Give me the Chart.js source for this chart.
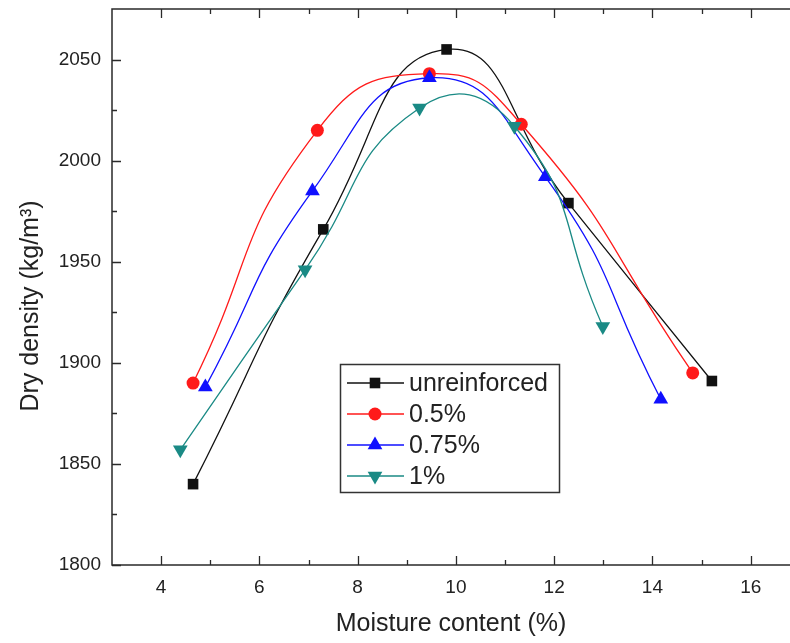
<!DOCTYPE html>
<html>
<head>
<meta charset="utf-8">
<script src="https://cdn.jsdelivr.net/npm/chart.js@4.4.1/dist/chart.umd.min.js"></script>
<style>
  html, body { margin: 0; padding: 0; background: #fff; overflow: hidden; }
  #wrap { width: 790px; height: 643px; position: relative; }
</style>
</head>
<body>
<div id="wrap"><canvas id="compaction"></canvas></div>
<script>
// Proctor compaction curves: dry density vs moisture content
const SERIES = ["unreinforced", "0.5%", "0.75%", "1%"];

const moistPlain = [4.65, 7.30, 9.81, 12.29, 15.21];
const densPlain  = [1840, 1966, 2055, 1979, 1891];
const moist05    = [4.65, 7.18, 9.46, 11.33, 14.82];
const dens05     = [1890, 2015, 2043, 2018, 1895];
const moist075   = [4.90, 7.08, 9.46, 11.82, 14.17];
const dens075    = [1888, 1985, 2041, 1992, 1882];
const moist1     = [4.39, 6.93, 9.26, 11.19, 12.99];
const dens1      = [1857, 1946, 2026, 2017, 1918];

const xTicks = [4, 6, 8, 10, 12, 14, 16];
const xMinor = [5, 7, 9, 11, 13, 15];
const yTicks = [1800, 1850, 1900, 1950, 2000, 2050];
const yMinor = [1825, 1875, 1925, 1975, 2025];

const Y_TITLE = "Dry density (kg/m³)";
const FONT = "'Liberation Sans', Arial, sans-serif";
const INK = "#222";

const pts = (xs, ys) => xs.map((x, i) => ({ x, y: ys[i] }));

function series(i, xs, ys, color, style, radius, rotation, order) {
  return {
    label: SERIES[i],
    data: pts(xs, ys),
    borderColor: color,
    backgroundColor: color,
    borderWidth: 1.3,
    tension: 0.52,
    pointStyle: style,
    pointRadius: radius,
    pointRotation: rotation,
    pointBorderWidth: 0,
    pointHoverRadius: radius,
    order
  };
}

// axis frame with inward ticks (Origin style)
const frame = {
  id: "frame",
  beforeDatasetsDraw(chart) {
    const { ctx, chartArea: a, scales: { x, y } } = chart;
    ctx.save();
    ctx.strokeStyle = "#2a2a2a";
    ctx.lineWidth = 1.5;
    ctx.beginPath();
    ctx.moveTo(a.right, a.top);
    ctx.lineTo(a.left, a.top);
    ctx.lineTo(a.left, a.bottom);
    ctx.lineTo(a.right, a.bottom);
    ctx.stroke();

    ctx.lineWidth = 1.3;
    ctx.beginPath();
    const xt = (v, len) => {
      const px = Math.round(x.getPixelForValue(v)) + 0.5;
      ctx.moveTo(px, a.bottom); ctx.lineTo(px, a.bottom - len);
      ctx.moveTo(px, a.top); ctx.lineTo(px, a.top + len);
    };
    const yt = (v, len) => {
      const py = Math.round(y.getPixelForValue(v)) + 0.5;
      ctx.moveTo(a.left, py); ctx.lineTo(a.left + len, py);
    };
    xTicks.forEach(v => xt(v, 9));
    xMinor.forEach(v => xt(v, 5));
    yTicks.forEach(v => yt(v, 9));
    yMinor.forEach(v => yt(v, 5));
    ctx.stroke();

    // rotated y-axis title, sitting a little below the axis centre
    ctx.fillStyle = INK;
    ctx.font = `25px ${FONT}`;
    ctx.textAlign = "center";
    ctx.textBaseline = "middle";
    ctx.translate(31, 306);
    ctx.rotate(-Math.PI / 2);
    ctx.fillText(Y_TITLE, 0, 0);
    ctx.restore();
  }
};

// boxed legend sitting inside the plot
const boxLegend = {
  id: "boxLegend",
  afterDraw(chart, args, opts) {
    const { ctx } = chart;
    const { left, top, width, height, rowGap } = opts;
    ctx.save();
    ctx.fillStyle = "#fff";
    ctx.fillRect(left, top, width, height);
    ctx.strokeStyle = "#333";
    ctx.lineWidth = 1.5;
    ctx.strokeRect(left + 0.5, top + 0.5, width, height);

    chart.data.datasets.forEach((ds, i) => {
      const cy = top + 19 + i * rowGap;
      ctx.strokeStyle = ds.borderColor;
      ctx.lineWidth = ds.borderWidth;
      ctx.beginPath();
      ctx.moveTo(left + 7, cy);
      ctx.lineTo(left + 64, cy);
      ctx.stroke();
      ctx.fillStyle = ds.backgroundColor;
      Chart.helpers.drawPoint(ctx, {
        pointStyle: ds.pointStyle, radius: ds.pointRadius,
        rotation: ds.pointRotation, borderWidth: 0
      }, left + 35, cy);
      ctx.fillStyle = INK;
      ctx.font = `25px ${FONT}`;
      ctx.textBaseline = "middle";
      ctx.fillText(ds.label, left + 69, cy + 1);
    });
    ctx.restore();
  }
};

new Chart(document.getElementById("compaction"), {
  type: "line",
  data: {
    datasets: [
      series(0, moistPlain, densPlain, "#111111", "rect", 7.5, 0, 3),
      series(1, moist05, dens05, "#ff1a1a", "circle", 6.5, 0, 2),
      series(2, moist075, dens075, "#1010ff", "triangle", 8.5, 0, 1),
      series(3, moist1, dens1, "#1a8a85", "triangle", 8.5, 180, 0)
    ]
  },
  options: {
    responsive: true,
    maintainAspectRatio: false,
    animation: false,
    layout: { autoPadding: false, padding: { top: 9, left: 0, right: 0, bottom: 0 } },
    plugins: {
      legend: { display: false },
      tooltip: { enabled: false },
      boxLegend: { left: 340, top: 364, width: 219, height: 128, rowGap: 31 }
    },
    scales: {
      x: {
        type: "linear",
        min: 3, max: 16.8,
        afterBuildTicks: s => { s.ticks = xTicks.map(v => ({ value: v })); },
        afterFit: s => { s.height = 78; s.paddingLeft = 0; s.paddingRight = 0; },
        grid: { display: false, drawTicks: false },
        border: { display: false },
        ticks: { padding: 11, autoSkip: false, maxRotation: 0, color: INK,
                 font: { family: FONT, size: 19 }, callback: v => String(v) },
        title: { display: true, text: "Moisture content (%)", color: INK,
                 font: { family: FONT, size: 25 }, padding: { top: 0, bottom: 4 } }
      },
      y: {
        type: "linear",
        min: 1800, max: 2075,
        afterBuildTicks: s => { s.ticks = yTicks.map(v => ({ value: v })); },
        afterFit: s => { s.width = 112; s.paddingTop = 0; s.paddingBottom = 0; },
        grid: { display: false, drawTicks: false },
        border: { display: false },
        ticks: { padding: 11, autoSkip: false, color: INK,
                 font: { family: FONT, size: 19 }, callback: v => String(v) },
        title: { display: false }
      }
    }
  },
  plugins: [frame, boxLegend]
});
</script>
</body>
</html>
